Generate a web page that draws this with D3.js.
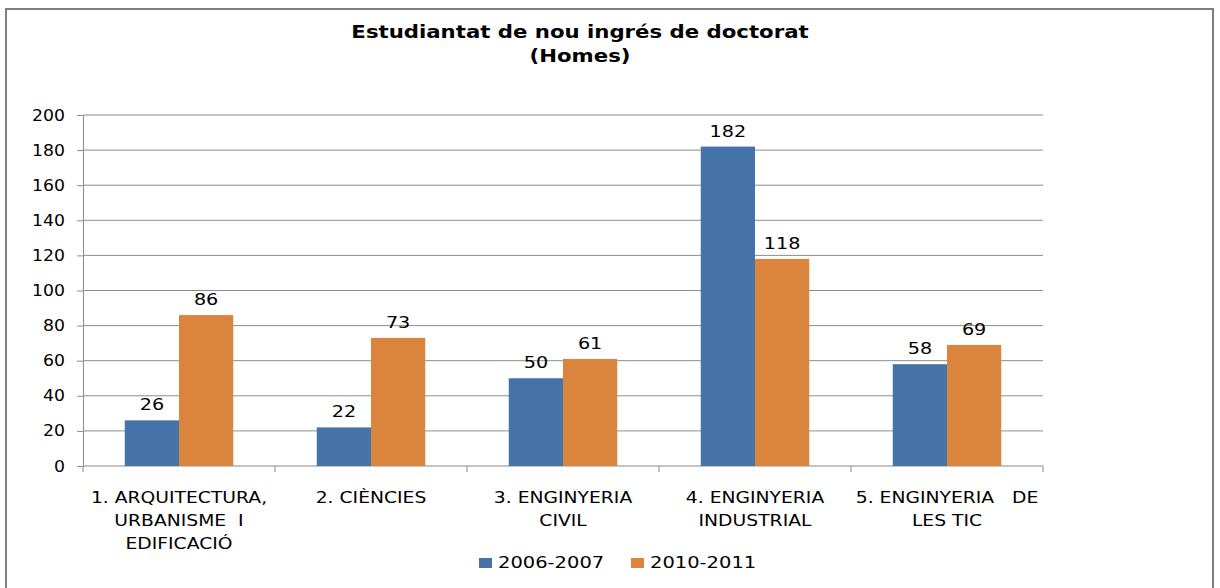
<!DOCTYPE html>
<html>
<head>
<meta charset="utf-8">
<script src="https://cdn.jsdelivr.net/npm/d3@7"></script>
<style>
  body { margin: 0; background: #fff; }
  text { font-family: "DejaVu Sans", sans-serif; fill: #000; }
</style>
</head>
<body>
<div id="chart"></div>
<script>
// chart data
var categories = [
  ["1. ARQUITECTURA,", "URBANISME  I", "EDIFICACIÓ"],
  ["2. CIÈNCIES"],
  ["3. ENGINYERIA", "CIVIL"],
  ["4. ENGINYERIA", "INDUSTRIAL"],
  ["5. ENGINYERIA   DE", "LES TIC"]
];
var seriesNames = ["2006-2007", "2010-2011"];
var values2006 = [26, 22, 50, 182, 58];
var values2011 = [86, 73, 61, 118, 69];
var yTicks = [0, 20, 40, 60, 80, 100, 120, 140, 160, 180, 200];
var colors = ["#4572A7", "#DB843D"];

var svgWidth = 1220, svgHeight = 588;
var margin = { top: 115, right: 177, bottom: 122, left: 83 };
var width = svgWidth - margin.left - margin.right;
var height = svgHeight - margin.top - margin.bottom;

// the reference text is drawn horizontally stretched
function wideText(sel, x, y, sx) {
  return sel.attr("transform", `translate(${x}, ${y}) scale(${sx}, 1)`);
}

var svg = d3.select("#chart").append("svg")
  .attr("width", svgWidth)
  .attr("height", svgHeight);

// outer frame
svg.append("rect")
  .attr("x", 6).attr("y", 9)
  .attr("width", 1207).attr("height", 590)
  .attr("fill", "none")
  .attr("stroke", "#7f7f7f")
  .attr("stroke-width", 2);

// title
wideText(svg.append("text"), 580, 38, 1.25)
  .attr("text-anchor", "middle")
  .style("font-weight", "bold")
  .style("font-size", "17px")
  .text("Estudiantat de nou ingrés de doctorat");
wideText(svg.append("text"), 580, 62, 1.25)
  .attr("text-anchor", "middle")
  .style("font-weight", "bold")
  .style("font-size", "17px")
  .text("(Homes)");

var g = svg.append("g")
  .attr("transform", `translate(${margin.left}, ${margin.top})`);

var idx = d3.range(categories.length);

var x0 = d3.scaleBand()
  .domain(idx)
  .range([0, width])
  .paddingInner(0.435)
  .paddingOuter(0.2175);

var x1 = d3.scaleBand()
  .domain([0, 1])
  .range([0, x0.bandwidth()]);

var y = d3.scaleLinear()
  .domain([0, 200])
  .range([height, 0]);

// gridlines
g.selectAll(".grid")
  .data(yTicks.slice(1))
  .enter()
  .append("line")
  .attr("x1", 0).attr("x2", width)
  .attr("y1", d => y(d)).attr("y2", d => y(d))
  .attr("stroke", "#8c8c8c")
  .attr("stroke-width", 1);

// y axis
var leftAxis = d3.axisLeft(y).tickValues(yTicks).tickSize(6).tickPadding(13);
var yAxis = g.append("g").call(leftAxis);
yAxis.select(".domain").attr("stroke", "#8c8c8c");
yAxis.selectAll(".tick line").attr("stroke", "#8c8c8c");
yAxis.selectAll(".tick text")
  .attr("x", null).attr("dy", null)
  .attr("transform", "translate(-18, 5) scale(1.15, 1)")
  .style("font-size", "15px")
  .style("font-family", "DejaVu Sans");

// x axis (category boundaries)
var step = width / categories.length;
g.append("line")
  .attr("x1", 0).attr("x2", width)
  .attr("y1", height).attr("y2", height)
  .attr("stroke", "#8c8c8c");
g.selectAll(".xtick")
  .data(d3.range(categories.length + 1))
  .enter()
  .append("line")
  .attr("x1", d => d * step).attr("x2", d => d * step)
  .attr("y1", height).attr("y2", height + 6)
  .attr("stroke", "#8c8c8c");

// bars
var data = idx.map(i => [values2006[i], values2011[i]]);
var groups = g.selectAll(".cat")
  .data(data)
  .enter()
  .append("g")
  .attr("transform", (d, i) => `translate(${x0(i)}, 0)`);

groups.selectAll("rect")
  .data(d => d)
  .enter()
  .append("rect")
  .attr("x", (d, j) => x1(j))
  .attr("y", d => y(d))
  .attr("width", x1.bandwidth())
  .attr("height", d => height - y(d))
  .attr("fill", (d, j) => colors[j]);

groups.selectAll(".lbl")
  .data(d => d)
  .enter()
  .append("text")
  .each(function (d, j) {
    wideText(d3.select(this), x1(j) + x1.bandwidth() / 2, y(d) - 10, 1.28);
  })
  .attr("text-anchor", "middle")
  .style("font-size", "15px")
  .text(d => d);

// category labels
categories.forEach(function (lines, i) {
  lines.forEach(function (line, k) {
    wideText(g.append("text"), x0(i) + x0.bandwidth() / 2, height + 37 + k * 23, 1.25)
      .attr("text-anchor", "middle")
      .style("font-size", "15px")
      .style("white-space", "pre")
      .text(line);
  });
});

// legend
var legend = svg.append("g").attr("transform", "translate(479, 568)");
var legendX = [0, 152];
seriesNames.forEach(function (name, j) {
  legend.append("rect")
    .attr("x", legendX[j]).attr("y", -10)
    .attr("width", 13).attr("height", 10)
    .attr("fill", colors[j]);
  wideText(legend.append("text"), legendX[j] + 19, 0, 1.3)
    .style("font-size", "15px")
    .text(name);
});
</script>
</body>
</html>
